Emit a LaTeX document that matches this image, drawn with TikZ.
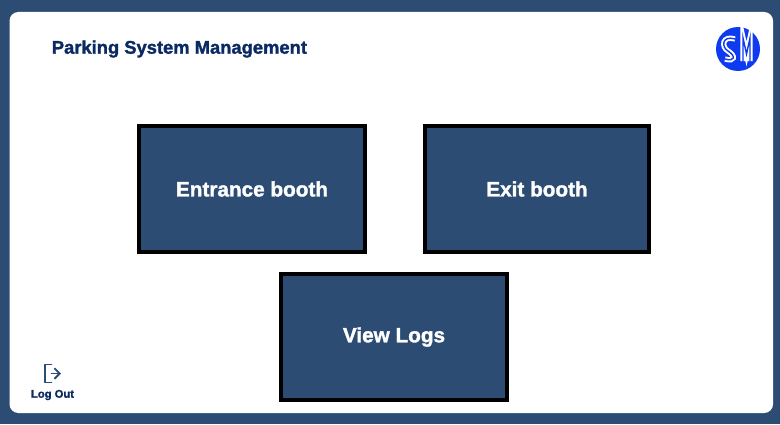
\documentclass[tikz,border=0pt]{standalone}
\usepackage{fontspec}
\setmainfont{Liberation Sans}[BoldFeatures={FakeBold=1.5}]
\usepackage{xcolor}
\usetikzlibrary{positioning,arrows.meta,calc}
\definecolor{frame}{HTML}{2C4C74}
\definecolor{title}{HTML}{0B2A63}
\definecolor{logo}{HTML}{0F3BF0}

\begin{document}
\begin{tikzpicture}[
  panel/.style={fill=white, draw=none, rounded corners=5pt},
  booth/.style={draw=black, fill=frame, line width=2.25pt, minimum width=4.52cm, minimum height=2.52cm, align=center, text=white, font=\fontsize{11.8}{14}\selectfont\bfseries},
  head/.style={text=title, font=\fontsize{10.45}{13}\selectfont\bfseries, anchor=west, inner sep=0pt},
  small/.style={text=title, font=\fontsize{6.4}{8}\selectfont\bfseries, inner sep=0pt},
  icon/.style={draw=frame, line width=1.1pt, line cap=round, line join=round}]
\useasboundingbox (0,0) rectangle (15.6,8.48);
\fill[frame] (0,0) rectangle (15.6,8.48);
\fill[panel] (0.19,0.22) rectangle (15.46,8.24);
\node[head] (title) at (1.03,7.50) {Parking System Management};
\node[booth] (entrance) at (5.04,4.70) {Entrance booth};
\node[booth, minimum width=4.48cm] (exit) at (10.74,4.70) {Exit booth};
\node[booth] (logs) at (7.88,1.74) {View Logs};
% logo
\fill[logo] (14.76,7.50) circle (0.44);
\foreach \w/\c in {3pt/white,0.8pt/logo}{
  \draw[line width=\w, color=\c] (14.70,7.70) .. controls (14.44,7.78) and (14.42,7.54) .. (14.56,7.46) .. controls (14.72,7.36) and (14.70,7.24) .. (14.50,7.30);
  \draw[line width=\w, color=\c] (14.86,7.26) -- (14.86,7.72) -- (14.93,7.40) -- (15.00,7.72) -- (15.00,7.26);
}
% log out
\draw[icon] (1.03,1.19) -- (0.90,1.19) -- (0.90,0.83) -- (1.03,0.83);
\draw[icon, -{Straight Barb[length=3pt,width=6pt]}] (1.03,1.01) -- (1.22,1.01);
\node[small] (logout) at (1.05,0.58) {Log Out};
\end{tikzpicture}
\end{document}
